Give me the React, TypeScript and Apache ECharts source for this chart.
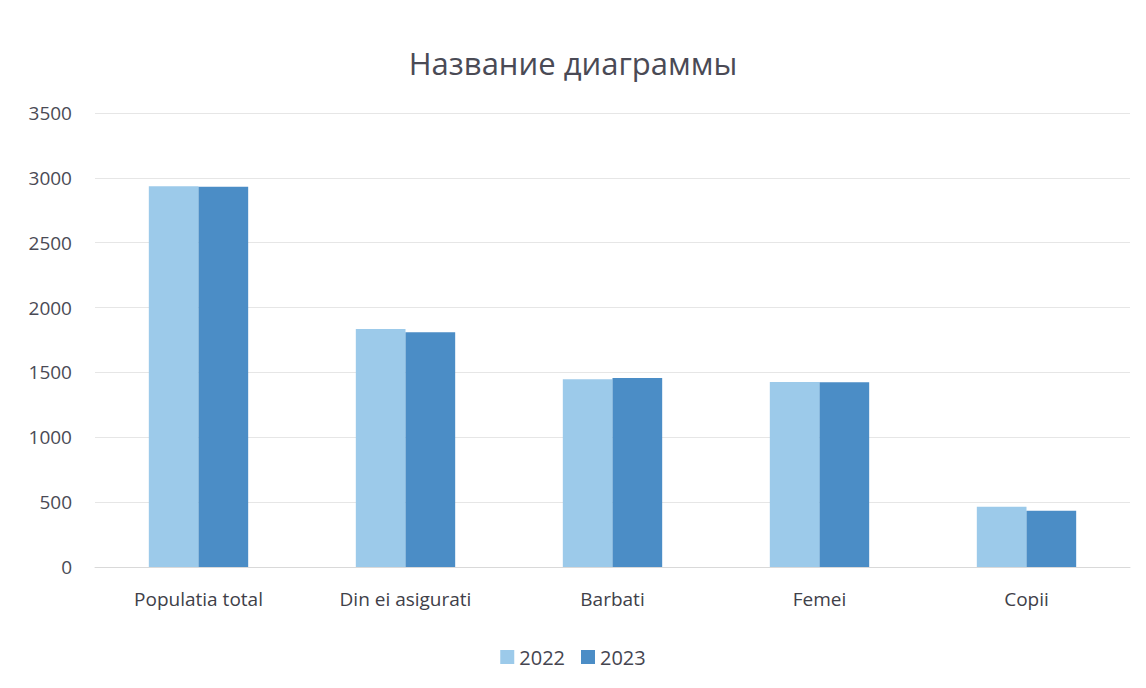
import React, { useEffect, useRef } from "react";
import * as echarts from "echarts";

const categories = ["Populatia total", "Din ei asigurati", "Barbati", "Femei", "Copii"];
const values2022 = [2935, 1835, 1447, 1426, 465];
const values2023 = [2932, 1810, 1457, 1425, 434];
const seriesNames = ["2022", "2023"];
const titleText = "Название диаграммы";

export default function App() {
  const ref = useRef<HTMLDivElement>(null);
  useEffect(() => {
    if (!ref.current) return;
    const chart = echarts.init(ref.current, null, { renderer: "svg" });
    const font = "'Open Sans', 'Noto Sans', sans-serif";
    chart.setOption({
      animation: false,
      backgroundColor: "#ffffff",
      title: {
        text: titleText,
        left: "center",
        top: 42,
        textStyle: { fontFamily: font, fontSize: 31, fontWeight: "normal", color: "#4a4a55" },
      },
      legend: {
        data: seriesNames,
        top: 642,
        left: "center",
        itemWidth: 14,
        itemHeight: 14,
        itemGap: 16,
        icon: "rect",
        textStyle: { fontFamily: font, fontSize: 20, color: "#454550" },
      },
      grid: { left: 95, right: 16, top: 113, bottom: 121, containLabel: false },
      xAxis: {
        type: "category",
        data: categories,
        axisLine: { lineStyle: { color: "#d9d9d9" } },
        axisTick: { show: false },
        axisLabel: { fontFamily: font, fontSize: 19, color: "#404048", margin: 22 },
      },
      yAxis: {
        type: "value",
        min: 0,
        max: 3500,
        interval: 500,
        axisLine: { show: false },
        axisTick: { show: false },
        splitLine: { lineStyle: { color: "#e6e6e6" } },
        axisLabel: {
          fontFamily: font,
          fontSize: 19,
          color: "#4a4a55",
          margin: 23,
          formatter: (v: number) => String(v),
        },
      },
      series: [
        {
          name: seriesNames[0],
          type: "bar",
          data: values2022,
          barGap: "0%",
          barCategoryGap: "52%",
          itemStyle: { color: "#9ccaea" },
        },
        {
          name: seriesNames[1],
          type: "bar",
          data: values2023,
          barGap: "0%",
          barCategoryGap: "52%",
          itemStyle: { color: "#4b8dc6" },
        },
      ],
    });
    return () => chart.dispose();
  }, []);
  return (
    <div
      ref={ref}
      style={{ position: "fixed", left: 0, top: 0, width: 1146, height: 688 }}
    />
  );
}
